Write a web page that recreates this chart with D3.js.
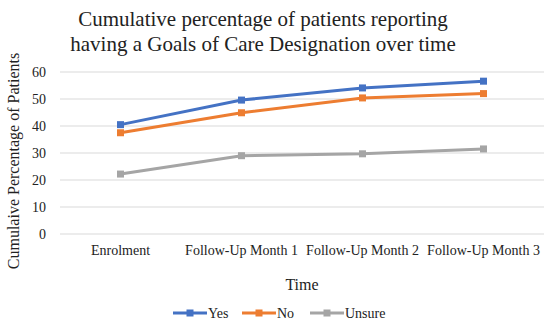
<!DOCTYPE html>
<html>
<head>
<meta charset="utf-8">
<script src="https://cdn.jsdelivr.net/npm/d3@7"></script>
<style>
  body { margin: 0; background: #fff; }
  text { font-family: "Liberation Serif", "Times New Roman", serif; fill: #222; }
</style>
</head>
<body>
<div id="chart"></div>
<script>
var categories = ['Enrolment', 'Follow-Up Month 1', 'Follow-Up Month 2', 'Follow-Up Month 3'];
var yesValues = [40.5, 49.6, 54.1, 56.6];
var noValues = [37.5, 44.9, 50.4, 52.0];
var unsureValues = [22.2, 29.0, 29.7, 31.5];
var yTicks = [0, 10, 20, 30, 40, 50, 60];
var seriesNames = ['Yes', 'No', 'Unsure'];
var seriesColors = ['#4472C4', '#ED7D31', '#A5A5A5'];

var series = [yesValues, noValues, unsureValues].map(function(v, i) {
  return { name: seriesNames[i], color: seriesColors[i], values: v };
});

var width = 550, height = 324;
var plotLeft = 60, plotRight = 544, plotTop = 72, plotBottom = 234;

var svg = d3.select('#chart').append('svg')
  .attr('width', width)
  .attr('height', height);

var x = d3.scaleBand().domain(categories).range([plotLeft, plotRight]);
var y = d3.scaleLinear().domain([0, 60]).range([plotBottom, plotTop]);

// gridlines
svg.append('g')
  .selectAll('line')
  .data(yTicks)
  .enter()
  .append('line')
  .attr('x1', plotLeft)
  .attr('x2', plotRight)
  .attr('y1', function(d) { return y(d); })
  .attr('y2', function(d) { return y(d); })
  .attr('stroke', '#d9d9d9')
  .attr('stroke-width', 1);

// y axis labels
var yAxis = d3.axisLeft(y).tickValues(yTicks).tickSize(0).tickPadding(14);
var gy = svg.append('g').attr('transform', 'translate(' + plotLeft + ',0)').call(yAxis);
gy.select('.domain').remove();
gy.selectAll('text').style('font-size', '14px').style('font-family', '"Liberation Serif", serif').attr('fill', '#333');

// x axis labels
var xAxis = d3.axisBottom(x).tickSize(0).tickPadding(11);
var gx = svg.append('g').attr('transform', 'translate(0,' + plotBottom + ')').call(xAxis);
gx.select('.domain').remove();
gx.selectAll('text').style('font-size', '14px').style('font-family', '"Liberation Serif", serif').attr('fill', '#333');

var line = d3.line()
  .x(function(d, i) { return x(categories[i]) + x.bandwidth() / 2; })
  .y(function(d) { return y(d); });

// series: gray drawn first so it sits below
series.slice().reverse().forEach(function(s) {
  var g = svg.append('g');
  g.append('path')
    .datum(s.values)
    .attr('d', line)
    .attr('fill', 'none')
    .attr('stroke', s.color)
    .attr('stroke-width', 3);
  g.selectAll('rect')
    .data(s.values)
    .enter()
    .append('rect')
    .attr('x', function(d, i) { return x(categories[i]) + x.bandwidth() / 2 - 3.5; })
    .attr('y', function(d) { return y(d) - 3.5; })
    .attr('width', 7)
    .attr('height', 7)
    .attr('fill', s.color);
});

// title
svg.append('text')
  .attr('x', 263)
  .attr('y', 26)
  .attr('text-anchor', 'middle')
  .style('font-size', '21px')
  .text('Cumulative percentage of patients reporting');
svg.append('text')
  .attr('x', 263)
  .attr('y', 51)
  .attr('text-anchor', 'middle')
  .style('font-size', '21px')
  .text('having a Goals of Care Designation over time');

// y title
svg.append('text')
  .attr('transform', 'translate(19,161) rotate(-90)')
  .attr('text-anchor', 'middle')
  .style('font-size', '16px')
  .text('Cumulaive Percentage of Patients');

// x title
svg.append('text')
  .attr('x', 302)
  .attr('y', 290)
  .attr('text-anchor', 'middle')
  .style('font-size', '16px')
  .text('Time');

// legend
var legendX = [173, 242, 310];
var leg = svg.append('g');
series.forEach(function(s, i) {
  var lx = legendX[i];
  leg.append('line')
    .attr('x1', lx).attr('x2', lx + 34)
    .attr('y1', 313).attr('y2', 313)
    .attr('stroke', s.color).attr('stroke-width', 3);
  leg.append('rect')
    .attr('x', lx + 13.5).attr('y', 309.5)
    .attr('width', 7).attr('height', 7)
    .attr('fill', s.color);
  leg.append('text')
    .attr('x', lx + 35)
    .attr('y', 318)
    .style('font-size', '14px')
    .text(s.name);
});
</script>
</body>
</html>
